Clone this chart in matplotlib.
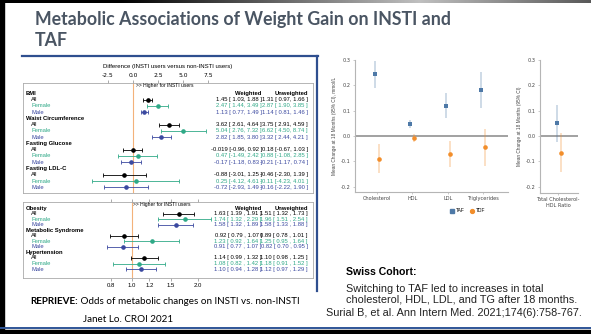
import numpy as np
import matplotlib.pyplot as plt
from matplotlib.transforms import blended_transform_factory
from matplotlib.lines import Line2D

W, H = 591, 334

# REPRIEVE: continuous outcomes (difference, INSTI vs non-INSTI)
cont_groups = ["BMI", "Waist Circumference", "Fasting Glucose", "Fasting LDL-C"]
subgroups = ["All", "Female", "Male"]
cont_est = [1.45, 2.47, 1.13, 3.62, 5.04, 2.82, -0.019, 0.47, -0.17, -0.88, 0.25, -0.72]
cont_lo = [1.03, 1.44, 0.77, 2.61, 2.76, 1.85, -0.96, -1.49, -1.18, -3.01, -4.12, -2.93]
cont_hi = [1.88, 3.49, 1.49, 4.64, 7.32, 3.80, 0.92, 2.42, 0.83, 1.25, 4.61, 1.49]
cont_uw_est = [1.31, 2.87, 1.14, 3.75, 6.62, 3.32, 0.18, 0.88, -0.21, -0.46, -0.11, -0.16]
cont_uw_lo = [0.97, 1.90, 0.81, 2.91, 4.50, 2.44, -0.67, -1.08, -1.17, -2.30, -4.23, -2.22]
cont_uw_hi = [1.66, 3.85, 1.46, 4.59, 8.74, 4.21, 1.03, 2.85, 0.74, 1.39, 4.01, 1.90]
cont_ticks = [-2.5, 0.0, 2.5, 5.0, 7.5]

# REPRIEVE: binary outcomes (odds ratios)
bin_groups = ["Obesity", "Metabolic Syndrome", "Hypertension"]
bin_est = [1.63, 1.74, 1.58, 0.92, 1.23, 0.91, 1.14, 1.08, 1.10]
bin_lo = [1.39, 1.32, 1.32, 0.79, 0.92, 0.77, 0.99, 0.82, 0.94]
bin_hi = [1.91, 2.29, 1.89, 1.07, 1.64, 1.07, 1.32, 1.42, 1.28]
bin_uw_est = [1.51, 1.96, 1.58, 0.89, 1.25, 0.82, 1.10, 1.18, 1.12]
bin_uw_lo = [1.32, 1.51, 1.33, 0.78, 0.95, 0.70, 0.98, 0.91, 0.97]
bin_uw_hi = [1.73, 2.54, 1.88, 1.01, 1.64, 0.95, 1.25, 1.52, 1.29]
bin_ticks = [0.8, 1.0, 1.2, 1.5, 2.0]

# Swiss cohort: mean change at 18 months (mmol/L)
lipid_cats = ["Cholesterol", "HDL", "LDL", "Triglycerides"]
taf_mean = [0.243, 0.047, 0.120, 0.182]
taf_lo = [0.191, 0.032, 0.070, 0.109]
taf_hi = [0.296, 0.063, 0.168, 0.251]
tdf_mean = [-0.089, -0.008, -0.070, -0.045]
tdf_lo = [-0.145, -0.025, -0.121, -0.118]
tdf_hi = [-0.033, 0.008, -0.020, 0.028]
ratio_cat = ["Total Cholesterol-\nHDL Ratio"]
ratio_taf = [0.050, -0.022, 0.122]
ratio_tdf = [-0.066, -0.141, 0.010]
lipid_ticks = [-0.2, -0.1, 0.0, 0.1, 0.2, 0.3]

SUB_COLORS = ["black", "#2fa987", "#3b49a0"]
TAF_C, TDF_C = "#4e79a7", "#f28e2b"
FONT = "Liberation Sans"


def px_axes(fig, x0, y0, x1, y1):
    return fig.add_axes([x0 / W, 1 - y1 / H, (x1 - x0) / W, (y1 - y0) / H])


def fmt(v):
    s = f"{v:.2f}"
    if abs(round(v, 2) - v) > 1e-9:
        s = f"{v:.3f}"
    return s


def ci_text(e, lo, hi, sep):
    lo_s = fmt(lo) if lo < 0 else " " + fmt(lo)
    return f"{fmt(e)} [{lo_s}{sep}, {fmt(hi)} ]"


def forest(ax, groups, est, lo, hi, uw_est, uw_lo, uw_hi, sep, fs=4.2):
    trans = blended_transform_factory(ax.transAxes, ax.transData)
    fx = lambda px: (px - 23) / 290.0
    row = 0
    k = 0
    for g in groups:
        ax.text(fx(26), row, g, transform=trans, fontsize=fs, fontweight="bold",
                va="center", ha="left", family=FONT)
        if row == 0:
            ax.text(fx(261), row, "Weighted", transform=trans, fontsize=fs,
                    fontweight="bold", va="center", ha="right", family=FONT)
            ax.text(fx(308), row, "Unweighted", transform=trans, fontsize=fs,
                    fontweight="bold", va="center", ha="right", family=FONT)
        row += 1
        for j, s in enumerate(subgroups):
            c = SUB_COLORS[j]
            ax.errorbar(est[k], row, xerr=[[est[k] - lo[k]], [hi[k] - est[k]]],
                        fmt="o", ms=2.3, color=c, elinewidth=0.6,
                        capsize=1.4, capthick=0.6, zorder=3)
            ax.text(fx(31), row, s, transform=trans, fontsize=fs, color=c,
                    va="center", ha="left", family=FONT)
            ax.text(fx(262), row, ci_text(est[k], lo[k], hi[k], sep),
                    transform=trans, fontsize=fs, color=c, va="center",
                    ha="right", family=FONT)
            ax.text(fx(308), row, ci_text(uw_est[k], uw_lo[k], uw_hi[k], sep),
                    transform=trans, fontsize=fs, color=c, va="center",
                    ha="right", family=FONT)
            row += 1
            k += 1
    for sp in ax.spines.values():
        sp.set_color("#aaaaaa")
        sp.set_linewidth(0.6)
    ax.set_yticks([])
    ax.tick_params(axis="x", labelsize=4.3, length=2, width=0.5, color="#888888",
                   pad=1.5)
    for lab in ax.get_xticklabels():
        lab.set_family(FONT)


fig = plt.figure(figsize=(W / 100, H / 100), dpi=100)

# background / slide decorations in pixel coordinates
bg = fig.add_axes([0, 0, 1, 1])
bg.set_xlim(0, W)
bg.set_ylim(H, 0)
bg.axis("off")
grad = np.concatenate([np.zeros(120), np.linspace(0, 0.75, 300), np.linspace(0.75, 0.35, 171)])
bg.imshow(grad[None, :], cmap="gray", vmin=0, vmax=1, aspect="auto",
          extent=[0, W, 3, 0], zorder=1)
bg.add_patch(plt.Rectangle((0, 0), 4, H, color="black", zorder=2))
bg.add_patch(plt.Rectangle((0, 329.5), W, 5, color="black", zorder=2))
bg.plot([0, W], [327.5, 327.5], color="#2f5597", lw=1.4, zorder=2)
bg.plot([22, 317.5], [55.5, 55.5], color="#2f4f8f", lw=1.6)
bg.plot([316.8, 316.8], [55.5, 291], color="#2f4f8f", lw=1.6)

bg.text(35, 19, "Metabolic Associations of Weight Gain on INSTI and",
        fontsize=12.8, fontweight="bold", color="#4a5563", family="Lato",
        va="center", ha="left")
bg.text(35, 41, "TAF", fontsize=12.8, fontweight="bold", color="#4a5563",
        family="Lato", va="center", ha="left")

t1 = bg.text(30, 302, "REPRIEVE:", fontsize=7.1, fontweight="bold",
             family="Lato", va="center", ha="left")
bg.annotate(" Odds of metabolic changes on INSTI vs. non-INSTI", xy=(1, 0.5),
            xycoords=t1, va="center", ha="left", fontsize=7.1, family="Lato")
bg.text(83, 320, "Janet Lo. CROI 2021", fontsize=7.1, family="Lato",
        va="center", ha="left")

bg.text(346, 272, "Swiss Cohort:", fontsize=7.6, fontweight="bold",
        family=FONT, va="center", ha="left")
bg.text(346, 289, "Switching to TAF led to increases in total", fontsize=7.8,
        family=FONT, va="center", ha="left", color="#222222")
bg.text(346, 299.5, "cholesterol, HDL, LDL, and TG after 18 months.",
        fontsize=7.8, family=FONT, va="center", ha="left", color="#222222")
bg.text(326, 313, "Surial B, et al. Ann Intern Med. 2021;174(6):758-767.",
        fontsize=7.8, family=FONT, va="center", ha="left", color="#222222")

# upper forest plot (continuous outcomes)
ax1 = px_axes(fig, 23, 83, 313, 193)
ax1.set_xlim(-11.0, 18.0)
ax1.set_ylim(15.9, -1.64)
ax1.axvline(0, color="#f3b27a", lw=0.8, zorder=1)
forest(ax1, cont_groups, cont_est, cont_lo, cont_hi,
       cont_uw_est, cont_uw_lo, cont_uw_hi, sep="")
ax1.xaxis.tick_top()
ax1.set_xticks(cont_ticks)
ax1.set_xticklabels([f"{t:.1f}" for t in cont_ticks])
ax1.xaxis.set_label_position("top")
ax1.set_xlabel("Difference (INSTI users versus non-INSTI users)", fontsize=4.3,
               family=FONT, labelpad=4)
ax1.text(0.25, -1.25, ">> Higher for INSTI users", fontsize=3.6, family=FONT,
         va="center", ha="left")

# lower forest plot (odds ratios)
ax2 = px_axes(fig, 23, 201.7, 313, 277.7)
ax2.set_xscale("log")
ax2.set_xlim(0.318, 6.70)
ax2.set_ylim(12.57, -1.2)
ax2.axvline(1.0, color="#f3b27a", lw=0.8, zorder=1)
forest(ax2, bin_groups, bin_est, bin_lo, bin_hi,
       bin_uw_est, bin_uw_lo, bin_uw_hi, sep=" ")
ax2.minorticks_off()
ax2.set_xticks(bin_ticks)
ax2.set_xticklabels([f"{t:.1f}" for t in bin_ticks])
ax2.tick_params(axis="x", top=True)
ax2.text(1.01, -0.75, ">> Higher for INSTI users", fontsize=3.6, family=FONT,
         va="center", ha="left")


def lipid_axes(ax, ymin):
    ax.set_ylim(ymin, 0.3)
    ax.set_yticks(lipid_ticks)
    ax.set_yticklabels([f"{t:.1f}" for t in lipid_ticks])
    ax.axhline(0, color="#9a9a9a", lw=1.3, zorder=1)
    for s in ["top", "right"]:
        ax.spines[s].set_visible(False)
    for s in ["left", "bottom"]:
        ax.spines[s].set_color("#b5b5b5")
        ax.spines[s].set_linewidth(0.8)
    ax.tick_params(labelsize=3.6, length=1.5, width=0.5, color="#b5b5b5",
                   labelcolor="#444444", pad=1.5)
    ax.patch.set_alpha(0)


def draw_pair(ax, xs, mean, lo, hi, color, marker):
    ax.vlines(xs, lo, hi, color=color, alpha=0.35, lw=1.1, zorder=2)
    ax.scatter(xs, mean, marker=marker, s=11, color=color, zorder=3, lw=0)


# Swiss cohort: lipids
ax3 = px_axes(fig, 355, 60, 508, 191.7)
pos = np.arange(len(lipid_cats))
ax3.set_xlim(-0.623, 3.708)
lipid_axes(ax3, -0.22)
draw_pair(ax3, pos - 0.06, taf_mean, taf_lo, taf_hi, TAF_C, "s")
draw_pair(ax3, pos + 0.06, tdf_mean, tdf_lo, tdf_hi, TDF_C, "o")
ax3.set_xticks(pos)
ax3.set_xticklabels(lipid_cats)
ax3.set_ylabel("Mean Change at 18 Months (95% CI), mmol/L", fontsize=3.4,
               family=FONT, color="#444444", labelpad=3)

# Swiss cohort: cholesterol/HDL ratio
ax4 = px_axes(fig, 540, 60, 578, 192.7)
ax4.set_xlim(-0.51, 0.566)
lipid_axes(ax4, -0.224)
draw_pair(ax4, [-0.04], [ratio_taf[0]], [ratio_taf[1]], [ratio_taf[2]], TAF_C, "s")
draw_pair(ax4, [0.08], [ratio_tdf[0]], [ratio_tdf[1]], [ratio_tdf[2]], TDF_C, "o")
ax4.set_xticks([0])
ax4.set_xticklabels(ratio_cat)
ax4.set_ylabel("Mean Change at 18 Months (95% CI)", fontsize=3.4,
               family=FONT, color="#444444", labelpad=3)

handles = [Line2D([], [], marker="s", ls="", color=TAF_C, ms=2.5),
           Line2D([], [], marker="o", ls="", color=TDF_C, ms=2.8)]
fig.legend(handles, ["TAF", "TDF"], loc="center",
           bbox_to_anchor=(468 / W, 1 - 211 / H), ncol=2, frameon=False,
           prop={"family": FONT, "size": 3.5}, handlelength=0.6,
           handletextpad=0.5, columnspacing=1.2)

fig.savefig("out.png", dpi=100)
